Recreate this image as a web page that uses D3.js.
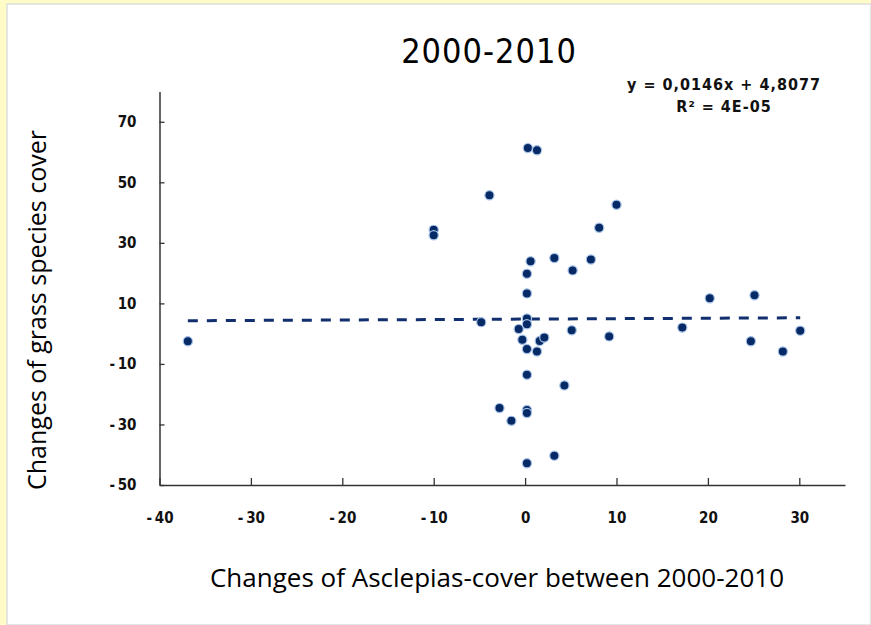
<!DOCTYPE html>
<html>
<head>
<meta charset="utf-8">
<script src="https://cdn.jsdelivr.net/npm/d3@7"></script>
<style>
    body { margin: 0; background: #fffcc8; }
    svg { display: block; }
</style>
</head>
<body>
<svg id="chart"></svg>
<script>
// values
const asclepiasChange = [
    -36.9, -10.0, -10.0, -3.9, -4.8, 0.3, 1.3, 10.0, 8.1, 7.2,
    5.2, 3.2, 0.6, 0.2, 0.2, 0.2, 0.2, -0.7, -0.3, 1.6,
    2.1, 5.1, 9.2, 0.2, 1.3, 0.2, 4.3, -2.8, 0.2, 0.2,
    -1.5, 3.2, 0.2, 17.2, 20.2, 25.1, 24.7, 28.2, 30.1
];
const grassChange = [
    -2.5, 34.3, 32.5, 45.7, 3.8, 61.3, 60.6, 42.6, 35.0, 24.5,
    20.9, 25.0, 23.9, 19.8, 13.3, 5.0, 3.1, 1.5, -2.0, -2.4,
    -1.3, 1.1, -0.9, -5.1, -5.9, -13.6, -17.1, -24.6, -25.2, -26.2,
    -28.8, -40.3, -42.8, 2.0, 11.7, 12.7, -2.5, -5.9, 1.0
];
const xTicks = [-40, -30, -20, -10, 0, 10, 20, 30];
const yTicks = [-50, -30, -10, 10, 30, 50, 70];
const trend = { slope: 0.0146, intercept: 4.8077 };
const equationLines = ["y = 0,0146x + 4,8077", "R² = 4E-05"];

const width = 871, height = 625;
const svg = d3.select("#chart").attr("width", width).attr("height", height);

// white panel over the yellow page
svg.append("rect").attr("x", 7).attr("y", 4).attr("width", width - 7).attr("height", height - 4)
    .attr("fill", "#fff").attr("stroke", "#ddd").attr("stroke-width", 1.5);

const x = d3.scaleLinear().domain([-40, 35]).range([159.5, 845]);
const y = d3.scaleLinear().domain([-50, 80]).range([485, 91.5]);

const tickFont = "'Liberation Sans Narrow', 'DejaVu Sans Condensed', 'Arial Narrow', sans-serif";
const fmt = d => d < 0 ? "-\u2009" + Math.abs(d) : d;

const yAxis = svg.append("g")
    .attr("transform", `translate(${x(-40)},0)`)
    .call(d3.axisLeft(y).tickValues(yTicks).tickSizeInner(-5).tickSizeOuter(0).tickPadding(23).tickFormat(fmt));

const xAxis = svg.append("g")
    .attr("transform", `translate(0,${y(-50)})`)
    .call(d3.axisBottom(x).tickValues(xTicks).tickSizeInner(-7).tickSizeOuter(0).tickPadding(27).tickFormat(fmt));

[xAxis, yAxis].forEach(g => {
    g.select(".domain").attr("stroke", "#333").attr("stroke-width", 1.5);
    g.selectAll(".tick line").attr("stroke", "#333").attr("stroke-width", 1.3);
    g.selectAll(".tick text").attr("fill", "#111").style("font-family", tickFont)
        .style("font-size", "15px").style("font-weight", "bold");
});

// trend line over the data range
const xr = d3.extent(asclepiasChange);
const trendLine = d3.line().x(d => x(d)).y(d => y(trend.slope * d + trend.intercept));
svg.append("path")
    .datum(xr)
    .attr("d", trendLine)
    .attr("fill", "none")
    .attr("stroke", "#112e6e")
    .attr("stroke-width", 3)
    .attr("stroke-dasharray", "10,9");

// points
const points = asclepiasChange.map((v, i) => ({ x: v, y: grassChange[i] }));
svg.append("g").selectAll("circle")
    .data(points)
    .enter().append("circle")
    .attr("cx", d => x(d.x))
    .attr("cy", d => y(d.y))
    .attr("r", 4.6)
    .attr("fill", "#052a66")
    .attr("stroke", "#a9c3e8")
    .attr("stroke-width", 1.2);

// titles
svg.append("text")
    .attr("x", 489).attr("y", 63)
    .attr("text-anchor", "middle")
    .style("font-family", "'DejaVu Sans Condensed', 'Liberation Sans Narrow', sans-serif")
    .style("font-size", "34px")
    .style("letter-spacing", "1px")
    .attr("fill", "#000")
    .text("2000-2010");

svg.append("g").selectAll("text")
    .data(equationLines)
    .enter().append("text")
    .attr("x", 724)
    .attr("y", (d, i) => 90 + i * 22)
    .attr("text-anchor", "middle")
    .style("font-family", tickFont)
    .style("font-size", "16px")
    .style("font-weight", "bold")
    .style("letter-spacing", "1px")
    .attr("fill", "#111")
    .text(d => d);

svg.append("text")
    .attr("x", 497).attr("y", 587)
    .attr("text-anchor", "middle")
    .style("font-family", "'Open Sans', sans-serif")
    .style("font-size", "26px")
    .attr("fill", "#000")
    .text("Changes of Asclepias-cover between 2000-2010");

svg.append("text")
    .attr("transform", "translate(46,310) rotate(-90)")
    .attr("text-anchor", "middle")
    .style("font-family", "'Open Sans', sans-serif")
    .style("font-size", "25px")
    .attr("fill", "#000")
    .text("Changes of grass species cover");
</script>
</body>
</html>
